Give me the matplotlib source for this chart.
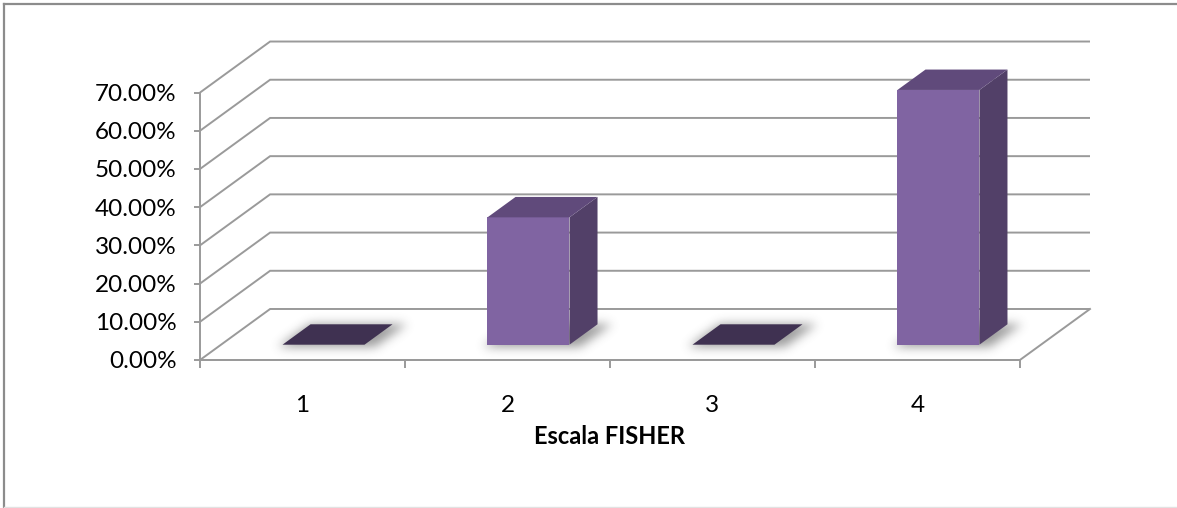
import numpy as np
import matplotlib
matplotlib.use("Agg")
import matplotlib.pyplot as plt
from matplotlib.patches import Polygon
from matplotlib.path import Path
from matplotlib.lines import Line2D

# Data
categories = ["1", "2", "3", "4"]
percentages = [0.0, 33.33, 0.0, 66.67]
y_ticks = [0, 10, 20, 30, 40, 50, 60, 70]
x_title = "Escala FISHER"

# Styling
FONT = "Lato"
GRID = "#9a9a9a"
FRONT = "#8064a2"
SIDE = "#524068"
TOP = "#604a7b"
FLAT = "#3f3151"

W, H, DPI = 1177, 508, 100
fig = plt.figure(figsize=(W / DPI, H / DPI), dpi=DPI)
fig.patch.set_facecolor("white")

# oblique depth of the 3-D box, in data units
depth_x = 0.342      # categories
depth_y = 13.35      # percent
bar_w = 0.40
bar_front = 0.30     # fraction of depth where bar front sits
bar_depth = 0.40     # fraction of depth occupied by bar

n = len(categories)
x_max = n + depth_x
y_max = 83.75

# shadow layer (behind everything else)
ax_sh = fig.add_axes([0, 0, 1, 1], zorder=0)
ax_sh.set_axis_off()

ax = fig.add_axes([200 / W, (H - 360) / H, 890 / W, 320 / H], zorder=1)
ax.patch.set_visible(False)
ax.set_xlim(0, x_max)
ax.set_ylim(0, y_max)

# grid "walls": left wall diagonals + back wall horizontals
for v in y_ticks:
    ax.add_line(Line2D([0, depth_x, n + depth_x], [v, v + depth_y, v + depth_y],
                       color=GRID, lw=1.4, zorder=1, clip_on=False,
                       solid_capstyle="butt", solid_joinstyle="miter"))
# floor front edge and right edge
ax.add_line(Line2D([0, n, n + depth_x], [0, 0, depth_y], color=GRID, lw=1.4,
                   zorder=1, clip_on=False, solid_joinstyle="miter"))


def bar_polys(i, v):
    c = i + 0.5
    x0 = c - bar_w / 2 + bar_front * depth_x
    x1 = c + bar_w / 2 + bar_front * depth_x
    y0 = bar_front * depth_y
    y1 = y0 + v
    ddx, ddy = bar_depth * depth_x, bar_depth * depth_y
    front = [(x0, y0), (x1, y0), (x1, y1), (x0, y1)]
    side = [(x1, y0), (x1 + ddx, y0 + ddy), (x1 + ddx, y1 + ddy), (x1, y1)]
    top = [(x0, y1), (x1, y1), (x1 + ddx, y1 + ddy), (x0 + ddx, y1 + ddy)]
    foot = [(x0, y0), (x1, y0), (x1 + ddx, y0 + ddy), (x0 + ddx, y0 + ddy)]
    return front, side, top, foot


fig.canvas.draw()

# soft floor shadows under every bar
yy, xx = np.mgrid[0:H, 0:W]
pts = np.column_stack([xx.ravel() + 0.5, yy.ravel() + 0.5])
mask = np.zeros(H * W)
for i, v in enumerate(percentages):
    _, _, _, foot = bar_polys(i, v)
    disp = ax.transData.transform(foot)
    disp[:, 1] = H - disp[:, 1]
    ctr = disp.mean(axis=0)
    grown = (disp - ctr) * np.array([1.18, 1.15]) + ctr + np.array([5.0, 1.0])
    mask = np.maximum(mask, Path(grown).contains_points(pts).astype(float))
mask = mask.reshape(H, W)

sigma = 5.0
k = np.arange(-15, 16)
g = np.exp(-k ** 2 / (2 * sigma ** 2))
g /= g.sum()
blur = np.apply_along_axis(lambda r: np.convolve(r, g, mode="same"), 1, mask)
blur = np.apply_along_axis(lambda r: np.convolve(r, g, mode="same"), 0, blur)
rgba = np.zeros((H, W, 4))
rgba[..., :3] = 0.3
rgba[..., 3] = 0.55 * blur
ax_sh.imshow(rgba, extent=[0, W, H, 0], interpolation="bilinear")
ax_sh.set_xlim(0, W)
ax_sh.set_ylim(H, 0)

# bars
for i, v in enumerate(percentages):
    front, side, top, foot = bar_polys(i, v)
    if v <= 0:
        ax.add_patch(Polygon(foot, closed=True, fc=FLAT, ec="none", zorder=3))
        continue
    ax.add_patch(Polygon(front, closed=True, fc=FRONT, ec="none", zorder=3))
    ax.add_patch(Polygon(side, closed=True, fc=SIDE, ec="none", zorder=3))
    ax.add_patch(Polygon(top, closed=True, fc=TOP, ec="none", zorder=3))

# axes: spines and ticks
for s in ("top", "right"):
    ax.spines[s].set_visible(False)
ax.spines["left"].set_bounds(0, y_ticks[-1])
ax.spines["bottom"].set_bounds(0, n)
for s in ("left", "bottom"):
    ax.spines[s].set_color(GRID)
    ax.spines[s].set_linewidth(1.4)

ax.set_yticks(y_ticks)
ax.set_yticklabels([f"{v:.2f}%" for v in y_ticks])
ax.tick_params(axis="y", direction="out", length=4.5, width=1.4, color=GRID,
               pad=12.5, labelsize=17.5, labelcolor="black")

ax.set_xticks(np.arange(0, n + 1))
ax.set_xticklabels([])
ax.set_xticks(np.arange(n) + 0.5, minor=True)
ax.set_xticklabels(categories, minor=True)
ax.tick_params(axis="x", which="major", direction="out", length=6, width=1.4,
               color=GRID)
ax.tick_params(axis="x", which="minor", length=0, pad=25, labelsize=17.5)
for lab in ax.get_yticklabels() + ax.get_xticklabels(minor=True):
    lab.set_fontfamily(FONT)

ax.set_xlabel(x_title, fontsize=17, fontweight="bold", fontfamily=FONT,
              labelpad=7)
# centre the title under the front floor edge
ax.xaxis.label.set_x((n / 2) / x_max)

# chart-area frame
fig.add_artist(Line2D([4 / W, 4 / W], [0, 1 - 4 / H], transform=fig.transFigure,
                      color="#8c8c8c", lw=1.6))
fig.add_artist(Line2D([4 / W, 1], [1 - 4 / H, 1 - 4 / H], transform=fig.transFigure,
                      color="#8c8c8c", lw=1.6))
fig.add_artist(Line2D([4 / W, 1], [0.7 / H, 0.7 / H], transform=fig.transFigure,
                      color="#e2e2e2", lw=1.0))

fig.savefig("out.png", dpi=DPI, facecolor="white")
